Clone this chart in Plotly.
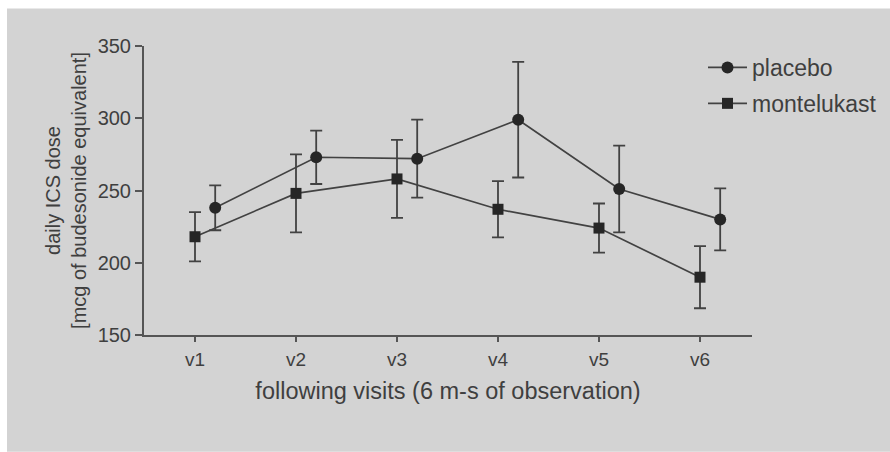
import plotly.graph_objects as go

# ---- data ----
visits = ["v1", "v2", "v3", "v4", "v5", "v6"]
placebo_mean = [238, 273, 272, 299, 251, 230]
placebo_err = [15.5, 18.5, 27, 40, 30, 21.5]
montelukast_mean = [218, 248, 258, 237, 224, 190]
montelukast_err = [17, 27, 27, 19.5, 17, 21.5]
y_ticks = [150, 200, 250, 300, 350]

# ---- styling ----
BG = "#d3d3d3"
TXT = "#3f3f3f"
LINE = "#424242"
MARK = "#262626"
FONT = "Liberation Sans, Arial, sans-serif"

pos = list(range(1, len(visits) + 1))
offset_placebo = 0.2

fig = go.Figure()
fig.add_trace(go.Scatter(
    x=[p + offset_placebo for p in pos], y=placebo_mean, name="placebo",
    mode="lines+markers", legendgroup="a",
    line=dict(color=LINE, width=1.7),
    marker=dict(symbol="circle", size=12, color=MARK),
    error_y=dict(type="data", array=placebo_err, visible=True,
                 color=LINE, thickness=1.8, width=6),
))
fig.add_trace(go.Scatter(
    x=pos, y=montelukast_mean, name="montelukast",
    mode="lines+markers", legendgroup="b",
    line=dict(color=LINE, width=1.7),
    marker=dict(symbol="square", size=11, color=MARK),
    error_y=dict(type="data", array=montelukast_err, visible=True,
                 color=LINE, thickness=1.8, width=6),
))

# grey panel behind everything (white strip at left/top)
fig.add_shape(type="rect", xref="paper", yref="paper",
              x0=(7 - 144) / 608, x1=(890 - 144) / 608,
              y0=(335 - 452) / 289.5, y1=(335 - 8) / 289.5,
              fillcolor=BG, line=dict(width=0), layer="below")

fig.update_layout(
    width=890, height=452,
    margin=dict(l=144, r=138, t=46, b=117, autoexpand=False),
    paper_bgcolor="white", plot_bgcolor="rgba(0,0,0,0)",
    font=dict(family=FONT, color=TXT),
    showlegend=True,
    legend=dict(x=(703 - 144) / 608, xanchor="left", y=1.0, yanchor="top",
                font=dict(size=23, color=TXT), bgcolor="rgba(0,0,0,0)",
                itemwidth=39, tracegroupgap=3, traceorder="grouped"),
    xaxis=dict(
        range=[0.495, 6.515], tickmode="array", tickvals=pos, ticktext=visits,
        showgrid=False, zeroline=False, showline=True, linecolor="#555555",
        linewidth=2, ticks="outside", ticklen=5, tickwidth=2, tickcolor="#555555",
        tickfont=dict(size=19, color=TXT), ticklabelstandoff=1,
        title=dict(text="following visits (6 m-s of observation)",
                   font=dict(size=23.5, color=TXT), standoff=14),
    ),
    yaxis=dict(
        range=[150, 350], tickmode="array", tickvals=y_ticks,
        showgrid=False, zeroline=False, showline=True, linecolor="#555555",
        linewidth=2, ticks="outside", ticklen=7, tickwidth=2, tickcolor="#555555",
        tickfont=dict(size=20, color=TXT),
        title=dict(text="daily ICS dose<br>[mcg of budesonide equivalent]",
                   font=dict(size=20, color=TXT), standoff=6),
    ),
)

fig.write_html("out.html")
